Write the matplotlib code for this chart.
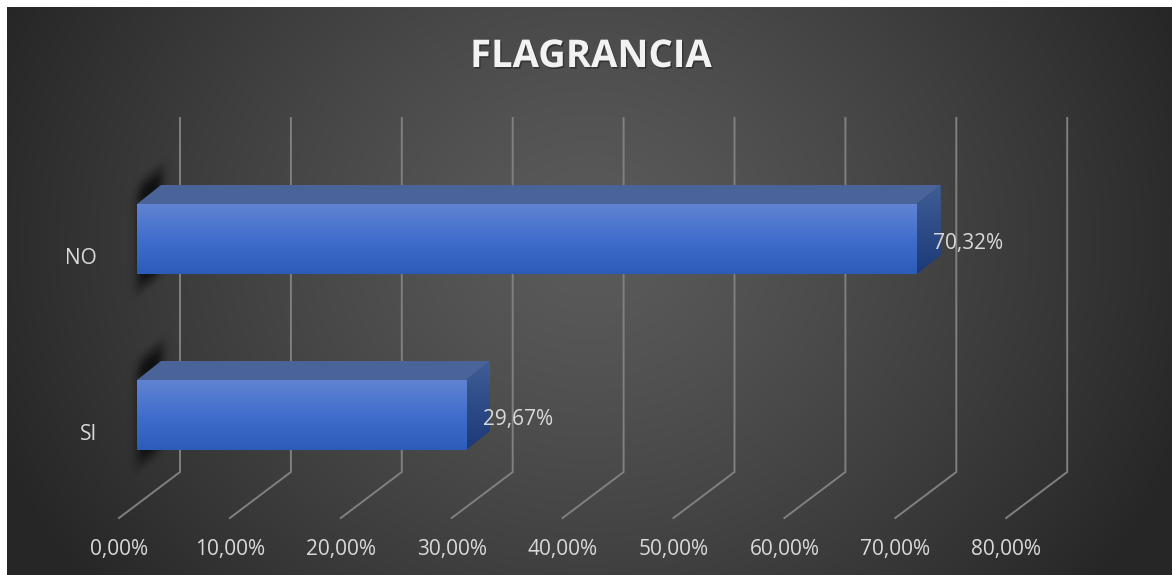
import numpy as np
import matplotlib
matplotlib.use("Agg")
import matplotlib.pyplot as plt
import matplotlib.patheffects as pe
from matplotlib.patches import Polygon

categories = ["SI", "NO"]
values = [29.67, 70.32]
value_labels = ["29,67%", "70,32%"]
ticks = [0, 10, 20, 30, 40, 50, 60, 70, 80]
tick_labels = ["0,00%", "10,00%", "20,00%", "30,00%", "40,00%", "50,00%", "60,00%", "70,00%", "80,00%"]
title = "FLAGRANCIA"

W, H = 1172, 575
FONT = "Open Sans"
X0, PX = 137.0, 11.09   # pixel of 0 %, pixels per 1 %
Y_SI, Y_STEP = 415.0, 176.0  # pixel of category 0, pixels per category

fig = plt.figure(figsize=(W / 100, H / 100), dpi=100, facecolor="white")
ax = fig.add_axes([0, 0, 1, 1])
ax.axis("off")

dx = 24 / PX          # depth of the 3-D box, in data units
dy = 19 / Y_STEP
half = 35 / Y_STEP    # half bar height
back = 43 / PX        # back wall offset of the grid
floor_x = -18 / PX    # front end of the floor lines
floor_y = (Y_SI - 518) / Y_STEP
wall_y = (Y_SI - 472) / Y_STEP
top_y = (Y_SI - 118) / Y_STEP


def px_extent(x0, x1, y0, y1):
    return [(x0 - X0) / PX, (x1 - X0) / PX, (Y_SI - y1) / Y_STEP, (Y_SI - y0) / Y_STEP]


# panel background: radial grey gradient
yy, xx = np.mgrid[7:575, 7:1172]
r = np.sqrt(((xx - 590) / 640.0) ** 2 + ((yy - 240) / 570.0) ** 2)
t = np.clip(r, 0, 1) ** 1.25
bg = 0x5b + (0x26 - 0x5b) * t
ax.imshow(np.dstack([bg, bg, bg]) / 255, extent=px_extent(7, 1172, 7, 575),
          origin="upper", aspect="auto", zorder=0, interpolation="bilinear")

# grid: back wall verticals and floor diagonals
for v in ticks:
    ax.plot([v + floor_x, v + back, v + back], [floor_y, wall_y, top_y],
            color="#808080", lw=1.4, zorder=1, solid_joinstyle="miter")

# bars
for i, (v, lab) in enumerate(zip(values, value_labels)):
    # dark blurred shadow around the box's left end
    cy = Y_SI - i * Y_STEP
    sy, sx = np.mgrid[cy - 85:cy + 85:170j, 120:180:60j]
    depth = (sx - X0) / 24
    d = np.abs(sy - (cy - 19 * depth))
    fade_v = np.clip((64 - d) / 24, 0, 1)
    fade_v = fade_v * fade_v * (3 - 2 * fade_v)
    fade_h = np.exp(-(np.abs(sx - 150) / 14) ** 3)
    sh = np.zeros((170, 60, 4))
    sh[..., :3] = 0.07
    sh[..., 3] = np.clip(fade_v * fade_h, 0, 1)
    ax.imshow(sh, extent=px_extent(120, 180, cy - 85, cy + 85), origin="upper",
              aspect="auto", zorder=2, interpolation="bilinear")

    top, bot = i + half, i - half
    # front face with vertical gradient
    g = np.linspace(0, 1, 70)
    stops = np.array([[0x60, 0x83, 0xd3], [0x3e, 0x6c, 0xcb], [0x2c, 0x5c, 0xb9]]) / 255
    grad = np.stack([np.interp(g, [0, .55, 1], stops[:, c]) for c in range(3)], axis=-1)[:, None, :]
    ax.imshow(grad, extent=[0, v, bot, top], origin="upper", aspect="auto", zorder=4)
    # top face
    ax.add_patch(Polygon([(0, top), (dx, top + dy), (v + dx, top + dy), (v, top)],
                         closed=True, fc="#4a6399", ec="none", zorder=3))
    # side face with gradient
    side = Polygon([(v, top), (v + dx, top + dy), (v + dx, bot + dy), (v, bot)],
                   closed=True, fc="none", ec="none", zorder=3)
    ax.add_patch(side)
    sg = np.stack([np.interp(g, [0, 1], c) for c in ([0x3f, 0x1b], [0x5d, 0x3a], [0x95, 0x78])],
                  axis=-1)[:, None, :] / 255
    im = ax.imshow(sg, extent=[v, v + dx, bot, top + dy], origin="upper", aspect="auto", zorder=3)
    im.set_clip_path(side)
    ax.text(v + 1.5, i - 4 / Y_STEP, lab, color="#d9d9d9", fontsize=15, family=FONT,
            ha="left", va="center", zorder=6)

# category labels
for i, c in enumerate(categories):
    ax.text(-40 / PX, i - 19 / Y_STEP, c, color="#d9d9d9", fontsize=15, family=FONT,
            ha="right", va="center", zorder=6)

# x tick labels
for v, lab in zip(ticks, tick_labels):
    ax.text(v + floor_x, (Y_SI - 550) / Y_STEP, lab, color="#d9d9d9", fontsize=15, family=FONT,
            ha="center", va="center", zorder=6)

# title
ax.text(((591 - X0) / PX), (Y_SI - 57) / Y_STEP, title, color="#f2f2f2", fontsize=27.5,
        family=FONT, weight="bold", ha="center", va="center", zorder=6,
        path_effects=[pe.withSimplePatchShadow(offset=(1, -1.2), shadow_rgbFace="black", alpha=0.35)])

ax.set_xlim(-X0 / PX, (W - X0) / PX)
ax.set_ylim((Y_SI - H) / Y_STEP, Y_SI / Y_STEP)
fig.savefig("out.png", dpi=100, facecolor="white")
